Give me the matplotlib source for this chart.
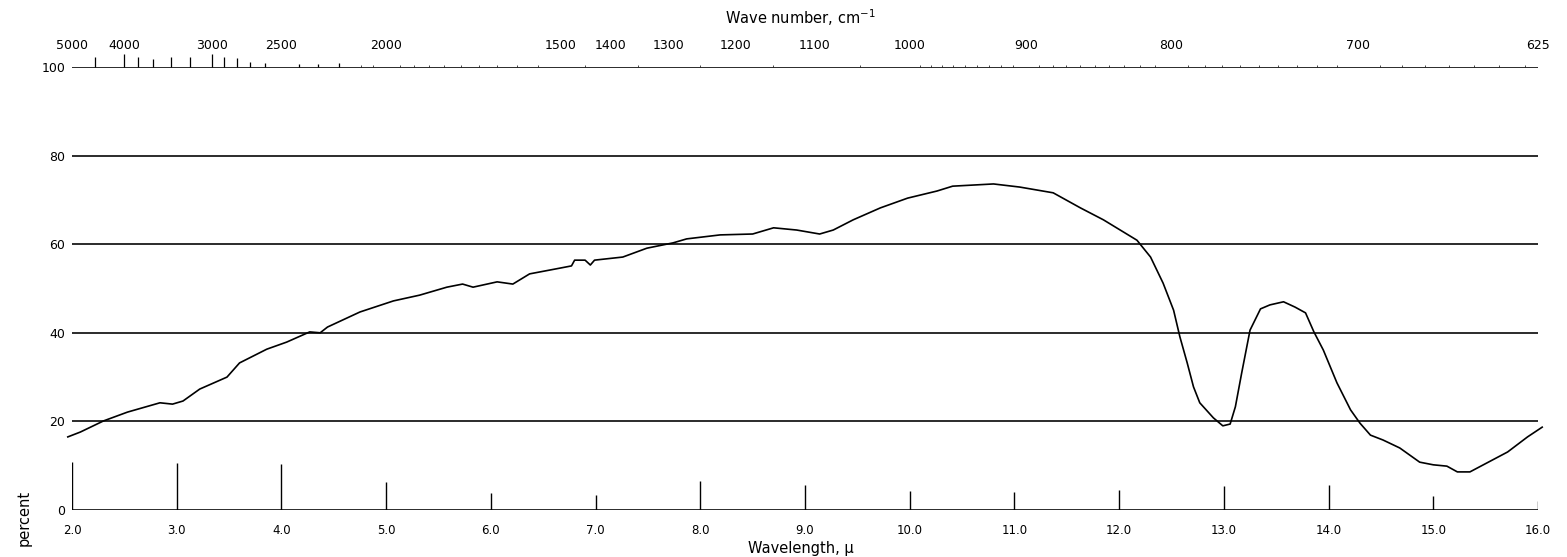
#!/usr/bin/env python3
# Espectro IR (transmitancia %) vs longitud de onda, con escala de número de onda arriba.

import numpy as np
import matplotlib
matplotlib.use("Agg")
import matplotlib.pyplot as plt

# Curva (µ, %)
wavelength = [1.96, 2.08, 2.30, 2.53, 2.84, 2.96, 3.06, 3.22, 3.48, 3.60,
              3.86, 4.05, 4.27, 4.37, 4.44, 4.75, 5.07, 5.32, 5.58, 5.73,
              5.83, 6.06, 6.21, 6.37, 6.66, 6.77, 6.80, 6.90, 6.95, 6.99,
              7.26, 7.49, 7.74, 7.87, 8.19, 8.50, 8.70, 8.92, 9.14, 9.27,
              9.46, 9.72, 9.98, 10.26, 10.41, 10.80, 11.05, 11.37, 11.63, 11.85,
              12.01, 12.17, 12.30, 12.42, 12.52, 12.58, 12.65, 12.71, 12.77, 12.90,
              12.99, 13.06, 13.11, 13.17, 13.25, 13.35, 13.44, 13.57, 13.68, 13.78,
              13.86, 13.95, 14.08, 14.21, 14.30, 14.40, 14.52, 14.68, 14.87, 15.00,
              15.13, 15.23, 15.35, 15.51, 15.71, 15.90, 16.04]
percent = [16.5, 17.6, 20.1, 22.1, 24.2, 23.9, 24.6, 27.3, 30.0, 33.2,
           36.3, 37.9, 40.2, 40.0, 41.3, 44.7, 47.2, 48.5, 50.3, 51.0,
           50.3, 51.5, 51.0, 53.3, 54.6, 55.1, 56.4, 56.4, 55.3, 56.4,
           57.1, 59.1, 60.3, 61.2, 62.1, 62.3, 63.7, 63.2, 62.3, 63.2,
           65.5, 68.2, 70.4, 72.0, 73.1, 73.6, 72.9, 71.6, 68.2, 65.5,
           63.2, 60.9, 57.1, 51.2, 45.1, 39.1, 33.2, 27.8, 24.2, 20.8,
           19.0, 19.4, 23.3, 30.9, 40.6, 45.4, 46.3, 47.0, 45.8, 44.5,
           40.2, 36.1, 28.7, 22.6, 19.6, 16.9, 15.8, 14.0, 10.8, 10.2,
           9.9, 8.6, 8.6, 10.6, 13.1, 16.5, 18.7]

# Eje inferior
mu_ticks = [2, 3, 4, 5, 6, 7, 8, 9, 10, 11, 12, 13, 14, 15, 16]
mu_labels = ["2.0", "3.0", "4.0", "5.0", "6.0", "7.0", "8.0", "9.0",
             "10.0", "11.0", "12.0", "13.0", "14.0", "15.0", "16.0"]
# marcas de calibración sobre la línea 0 (altura en %)
marker_height = [10.8, 10.6, 10.4, 6.3, 3.8, 3.4, 6.5, 5.6, 4.3, 4.1, 4.5, 5.4, 5.6, 3.2, 2.0]

# Eje superior (número de onda, cm-1)
wn_ticks = [5000, 4000, 3000, 2500, 2000, 1500, 1400, 1300, 1200, 1100, 1000, 900, 800, 700, 625]
wn_mark = [4500, 4000, 3800, 3600, 3400, 3200, 3000, 2900, 2800, 2700, 2600, 2400, 2300, 2200]
wn_mark_height = [2.3, 2.9, 2.3, 1.8, 2.3, 2.3, 2.9, 2.3, 2.0, 1.1, 0.9, 0.7, 0.7, 0.9]

y_grid = [0, 20, 40, 60, 80, 100]
y_labels = ["0", "20", "40", "60", "80", "100"]


def mu_to_wn(x):
    x = np.asarray(x, dtype=float)
    with np.errstate(divide="ignore", invalid="ignore"):
        return 1e4 / x


plt.rcParams["font.family"] = ["DejaVu Sans"]

fig = plt.figure(figsize=(15.67, 5.57), dpi=100)
ax = fig.add_axes([72 / 1567, 1 - 510 / 557, (1538 - 72) / 1567, (510 - 67) / 557])
ax.set_xlim(2, 16)
ax.set_ylim(0, 100)
for s in ax.spines.values():
    s.set_visible(False)

ax.hlines(y_grid, 2, 16, color="#1a1a1a", lw=1.3, zorder=1)
ax.plot(wavelength, percent, color="black", lw=1.2, clip_on=False, zorder=3)

# marcas verticales sobre la línea base
ax.vlines(mu_ticks, 0, marker_height, color="black", lw=1.0, zorder=2)
# marcas de número de onda sobre la línea de 100
ax.vlines(mu_to_wn(wn_mark), 100, 100 + np.array(wn_mark_height), color="black",
          lw=0.9, clip_on=False, zorder=2)

ax.set_xticks(mu_ticks)
ax.set_xticklabels(mu_labels, fontsize=8.5)
ax.tick_params(axis="x", length=0, pad=10)
ax.set_yticks(y_grid)
ax.set_yticklabels(y_labels, fontsize=9)
ax.tick_params(axis="y", length=0, pad=5)

sec = ax.secondary_xaxis("top", functions=(mu_to_wn, mu_to_wn))
sec.set_xticks(wn_ticks)
sec.set_xticklabels([str(w) for w in wn_ticks], fontsize=9)
sec.set_xticks(list(range(2100, 1000, -50)) + list(range(990, 629, -10)), minor=True)
sec.tick_params(axis="x", which="major", length=0, pad=11)
sec.tick_params(axis="x", which="minor", length=1.5, width=0.5, direction="out")
sec.spines["top"].set_visible(False)

fig.text(800 / 1567, 1 - 18 / 557, "Wave number, cm$^{-1}$", ha="center", va="center", fontsize=10.5)
fig.text(801 / 1567, 1 - 548 / 557, "Wavelength, \u03bc", ha="center", va="center", fontsize=10.5)
fig.text(24 / 1567, 1 - 518 / 557, "percent", rotation=90, ha="center", va="center", fontsize=10.5)

fig.savefig("out.png", dpi=100)
